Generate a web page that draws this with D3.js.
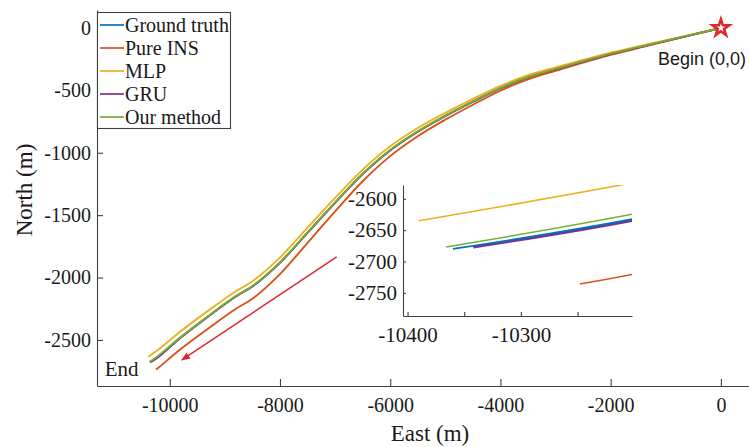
<!DOCTYPE html>
<html>
<head>
<meta charset="utf-8">
<script src="https://cdn.jsdelivr.net/npm/d3@7"></script>
<style>
  body { margin: 0; background: #fff; }
  svg { display: block; }
</style>
</head>
<body>
<svg id="chart" width="749" height="447"></svg>
<script>
// Trajectory comparison: East / North positions in metres, each series as [east, north] pairs
const seriesNames  = ["Ground truth", "Pure INS", "MLP", "GRU", "Our method"];
const seriesColors = ["#0072BD", "#D95319", "#EDB120", "#7E2F8E", "#77AC30"];

const groundTruth = [[0,0],[-1300,-135],[-2000,-208],[-2500,-268],[-3000,-330],[-3500,-395],[-4000,-482],[-4500,-590],[-5000,-705],[-5500,-830],[-6000,-980],[-6500,-1170],[-7000,-1400],[-7500,-1640],[-8000,-1880],[-8500,-2070],[-8800,-2150],[-9300,-2310],[-9800,-2480],[-10200,-2632],[-10360,-2680]];
const pureINS     = [[0,0],[-1300,-140],[-2000,-216],[-2500,-278],[-3000,-343],[-3500,-411],[-4000,-502],[-4500,-615],[-5000,-735],[-5500,-868],[-6000,-1027],[-6500,-1228],[-7000,-1470],[-7500,-1722],[-8000,-1972],[-8500,-2170],[-8800,-2250],[-9300,-2408],[-9800,-2573],[-10200,-2720],[-10248,-2736]];
const mlp         = [[0,0],[-1300,-128],[-2000,-198],[-2500,-256],[-3000,-316],[-3500,-379],[-4000,-464],[-4500,-568],[-5000,-680],[-5500,-802],[-6000,-948],[-6500,-1135],[-7000,-1362],[-7500,-1600],[-8000,-1840],[-8500,-2030],[-8800,-2110],[-9300,-2265],[-9800,-2430],[-10200,-2574],[-10390,-2635]];
const gru         = [[0,0],[-1300,-136],[-2000,-209],[-2500,-269],[-3000,-331],[-3500,-396],[-4000,-483],[-4500,-591],[-5000,-706],[-5500,-831],[-6000,-981],[-6500,-1171],[-7000,-1401],[-7500,-1641],[-8000,-1881],[-8500,-2071],[-8800,-2151],[-9300,-2311],[-9800,-2481],[-10200,-2634],[-10342,-2677]];
const ourMethod   = [[0,0],[-1300,-133],[-2000,-206],[-2500,-266],[-3000,-328],[-3500,-393],[-4000,-480],[-4500,-588],[-5000,-703],[-5500,-828],[-6000,-978],[-6500,-1168],[-7000,-1398],[-7500,-1638],[-8000,-1878],[-8500,-2068],[-8800,-2148],[-9300,-2308],[-9800,-2477],[-10200,-2624],[-10366,-2677]];

const xTicks = [-10000, -8000, -6000, -4000, -2000, 0];
const yTicks = [0, -500, -1000, -1500, -2000, -2500];
const insetXTicks  = [-10400, -10350, -10300, -10250];
const insetXLabels = ["-10400", "", "-10300", ""];
const insetYTicks  = [-2600, -2650, -2700, -2750];

const beginPoint = [0, 0];
const directionArrow = [[-6970, -1835], [-9780, -2660]];
const endLabelPos = [-11180, -2790];

const allSeries = [groundTruth, pureINS, mlp, gru, ourMethod];

const serif = "'Liberation Serif', 'Times New Roman', serif";
const sans  = "'Liberation Sans', Arial, sans-serif";
const axisColor = "#404040";
const textColor = "#1a1a1a";

const svg = d3.select("#chart");
const defs = svg.append("defs");

// ---------- main axes ----------
const x = d3.scaleLinear().domain([-11320, 510]).range([97, 749]);
const y = d3.scaleLinear().domain([-2869, 144]).range([386, 10]);

defs.append("clipPath").attr("id", "mainClip")
  .append("rect").attr("x", 97).attr("y", 10).attr("width", 652).attr("height", 376);

const line = d3.line().x(d => x(d[0])).y(d => y(d[1])).curve(d3.curveCatmullRom.alpha(0.5));

const plot = svg.append("g").attr("clip-path", "url(#mainClip)");
allSeries.forEach((s, i) => {
  plot.append("path").datum(s)
    .attr("d", line).attr("fill", "none")
    .attr("stroke", seriesColors[i]).attr("stroke-width", 1.9);
});

function styleAxis(g, size) {
  g.attr("font-family", null).attr("font-size", null);
  g.select(".domain").attr("stroke", axisColor).attr("stroke-width", 1.1);
  g.selectAll(".tick line").attr("stroke", axisColor).attr("stroke-width", 1.1);
  g.selectAll(".tick text")
    .style("font-family", serif).style("font-size", size + "px")
    .attr("fill", textColor);
}

svg.append("g").attr("transform", "translate(0,386)")
  .call(d3.axisBottom(x).tickValues(xTicks).tickSizeInner(-7).tickSizeOuter(0).tickPadding(12).tickFormat(String))
  .call(g => styleAxis(g, 20));

svg.append("g").attr("transform", "translate(97,0)")
  .call(d3.axisLeft(y).tickValues(yTicks).tickSizeInner(-6).tickSizeOuter(0).tickPadding(6).tickFormat(String))
  .call(g => styleAxis(g, 20));

// axis titles
svg.append("text").attr("x", 430).attr("y", 441).attr("text-anchor", "middle")
  .style("font-family", serif).style("font-size", "23px").attr("fill", textColor).text("East (m)");
svg.append("text").attr("transform", "translate(32,190) rotate(-90)").attr("text-anchor", "middle")
  .style("font-family", serif).style("font-size", "23px").attr("fill", textColor).text("North (m)");

// ---------- annotations ----------
defs.append("marker").attr("id", "arrowHead")
  .attr("viewBox", "0 0 10 10").attr("refX", 9).attr("refY", 5)
  .attr("markerWidth", 9).attr("markerHeight", 9).attr("markerUnits", "userSpaceOnUse")
  .attr("orient", "auto")
  .append("path").attr("d", "M0,1 L10,5 L0,9 Z").attr("fill", "#e0262b");

svg.append("line")
  .attr("x1", x(directionArrow[0][0])).attr("y1", y(directionArrow[0][1]))
  .attr("x2", x(directionArrow[1][0])).attr("y2", y(directionArrow[1][1]))
  .attr("stroke", "#e0262b").attr("stroke-width", 1.5).attr("marker-end", "url(#arrowHead)");

svg.append("text").attr("x", x(endLabelPos[0])).attr("y", y(endLabelPos[1]))
  .style("font-family", serif).style("font-size", "21px").attr("fill", textColor).text("End");

svg.append("path")
  .attr("d", d3.symbol(d3.symbolStar, 85)())
  .attr("transform", `translate(${x(beginPoint[0])},${y(beginPoint[1])})`)
  .attr("fill", "#fff").attr("stroke", "#e0262b").attr("stroke-width", 2.6)
  .attr("stroke-linejoin", "miter");

svg.append("text").attr("x", 702).attr("y", 65).attr("text-anchor", "middle")
  .style("font-family", sans).style("font-size", "18px").attr("fill", textColor).text("Begin (0,0)");

// ---------- legend ----------
const legend = svg.append("g");
legend.append("rect").attr("x", 97.5).attr("y", 12.5).attr("width", 133).attr("height", 116)
  .attr("fill", "#fff").attr("stroke", axisColor).attr("stroke-width", 1.1);
seriesNames.forEach((name, i) => {
  const cy = 25 + i * 23;
  legend.append("line").attr("x1", 100).attr("x2", 124).attr("y1", cy).attr("y2", cy)
    .attr("stroke", seriesColors[i]).attr("stroke-width", 1.7);
  legend.append("text").attr("x", 125).attr("y", cy + 7)
    .style("font-family", serif).style("font-size", "20px").attr("fill", textColor).text(name);
});

// ---------- inset: zoom on the end of the trajectories ----------
const ix = d3.scaleLinear().domain([-10404, -10202]).range([403, 632]);
const iy = d3.scaleLinear().domain([-2787, -2578]).range([316, 185]);

defs.append("clipPath").attr("id", "insetClip")
  .append("rect").attr("x", 403).attr("y", 185).attr("width", 229).attr("height", 131);

const insetLine = d3.line().x(d => ix(d[0])).y(d => iy(d[1])).curve(d3.curveCatmullRom.alpha(0.5));
// GRU under the ground truth so the two show as one dark band
const insetOrder  = [3, 1, 2, 0, 4];
const insetWidths = [1.8, 1.6, 1.6, 2.8, 1.6];
const inset = svg.append("g").attr("clip-path", "url(#insetClip)");
insetOrder.forEach(i => {
  inset.append("path").datum(allSeries[i])
    .attr("d", insetLine).attr("fill", "none")
    .attr("stroke", seriesColors[i]).attr("stroke-width", insetWidths[i]);
});

svg.append("g").attr("transform", "translate(0,316)")
  .call(d3.axisBottom(ix).tickValues(insetXTicks).tickSizeInner(-4).tickSizeOuter(0).tickPadding(11)
    .tickFormat((d, i) => insetXLabels[i]))
  .call(g => styleAxis(g, 21));

svg.append("g").attr("transform", "translate(403,0)")
  .call(d3.axisLeft(iy).tickValues(insetYTicks).tickSizeInner(-3).tickSizeOuter(0).tickPadding(6).tickFormat(String))
  .call(g => styleAxis(g, 21));
</script>
</body>
</html>
